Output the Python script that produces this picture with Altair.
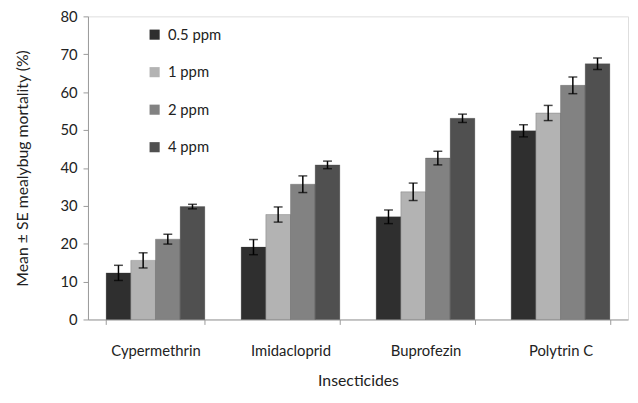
import altair as alt
import pandas as pd

insecticides = ["Cypermethrin", "Imidacloprid", "Buprofezin", "Polytrin C"]
doses = ["0.5 ppm", "1 ppm", "2 ppm", "4 ppm"]
means = {
    "0.5 ppm": [12.3, 19.1, 27.1, 49.8],
    "1 ppm": [15.6, 27.7, 33.7, 54.5],
    "2 ppm": [21.2, 35.7, 42.6, 61.8],
    "4 ppm": [29.8, 40.8, 53.1, 67.5],
}
errors = {
    "0.5 ppm": [2.0, 2.0, 1.8, 1.6],
    "1 ppm": [2.0, 2.0, 2.3, 2.0],
    "2 ppm": [1.3, 2.2, 1.8, 2.2],
    "4 ppm": [0.6, 1.0, 1.1, 1.5],
}
y_ticks = [0, 10, 20, 30, 40, 50, 60, 70, 80]
colors = ["#2f2f2f", "#b3b3b3", "#828282", "#505050"]

rows = []
for d in doses:
    for i, ins in enumerate(insecticides):
        m = means[d][i]
        e = errors[d][i]
        rows.append({"Insecticide": ins, "Dose": d, "Mean": m, "lo": m - e, "hi": m + e})
df = pd.DataFrame(rows)

FONT = "Lato"
Y_TITLE = "Mean ± SE mealybug mortality (%)"

x_axis = alt.Axis(
    title="Insecticides",
    labelAngle=0,
    tickBand="extent",
    labelFontSize=15,
    labelColor="#222222",
    labelFont=FONT,
    labelPadding=19,
    titleFont=FONT,
    titleFontSize=16,
    titleFontWeight="normal",
    titleColor="#222222",
    titlePadding=15,
    domainColor="#999999",
    tickColor="#999999",
    tickSize=5,
)
y_axis = alt.Axis(
    title=Y_TITLE,
    values=y_ticks,
    labelOverlap=False,
    grid=False,
    labelFontSize=15,
    labelColor="#222222",
    labelFont=FONT,
    titleFont=FONT,
    titleFontSize=16,
    titleFontWeight="normal",
    titleColor="#222222",
    titlePadding=30,
    domainColor="#999999",
    tickColor="#999999",
    tickSize=5,
    labelPadding=6,
)
x_scale = alt.Scale(paddingInner=0.269, paddingOuter=0.1345)
y_scale = alt.Scale(domain=[0, 80])

x_enc = alt.X("Insecticide:N", sort=insecticides, scale=x_scale, axis=x_axis, title="Insecticides")
xoff = alt.XOffset("Dose:N", sort=doses, scale=alt.Scale(paddingInner=0, paddingOuter=0))

bars = alt.Chart(df).mark_bar(stroke="#3a3a3a", strokeWidth=0.5, strokeOpacity=0.5).encode(
    x=x_enc,
    xOffset=xoff,
    y=alt.Y("Mean:Q", scale=y_scale, axis=y_axis, title=Y_TITLE),
    color=alt.Color(
        "Dose:N",
        sort=doses,
        scale=alt.Scale(domain=doses, range=colors),
        legend=alt.Legend(
            title=None,
            orient="none",
            legendX=60,
            legendY=11,
            symbolType="square",
            symbolSize=105,
            symbolStrokeWidth=0,
            labelFontSize=15,
            labelFont=FONT,
            labelColor="#222222",
            rowPadding=22,
            padding=0,
            labelOffset=6,
        ),
    ),
)

rules = alt.Chart(df).mark_rule(color="black", strokeWidth=1.5).encode(
    x=x_enc,
    xOffset=xoff,
    y=alt.Y("lo:Q", scale=y_scale, axis=y_axis, title=Y_TITLE),
    y2="hi:Q",
)
caps_lo = alt.Chart(df).mark_tick(color="black", size=9, thickness=1.5).encode(
    x=x_enc,
    xOffset=xoff,
    y=alt.Y("lo:Q", scale=y_scale, axis=y_axis, title=Y_TITLE),
)
caps_hi = alt.Chart(df).mark_tick(color="black", size=9, thickness=1.5).encode(
    x=x_enc,
    xOffset=xoff,
    y=alt.Y("hi:Q", scale=y_scale, axis=y_axis, title=Y_TITLE),
)

chart = (
    alt.layer(bars, rules, caps_lo, caps_hi)
    .properties(
        width=547,
        height=307,
        autosize=alt.AutoSizeParams(type="none"),
        padding={"left": 81, "top": 6, "right": 2, "bottom": 74},
    )
    .configure_view(strokeWidth=0)
    .configure(background="white")
)

chart.save("out.html", embed_options={"renderer": "svg", "actions": False})
